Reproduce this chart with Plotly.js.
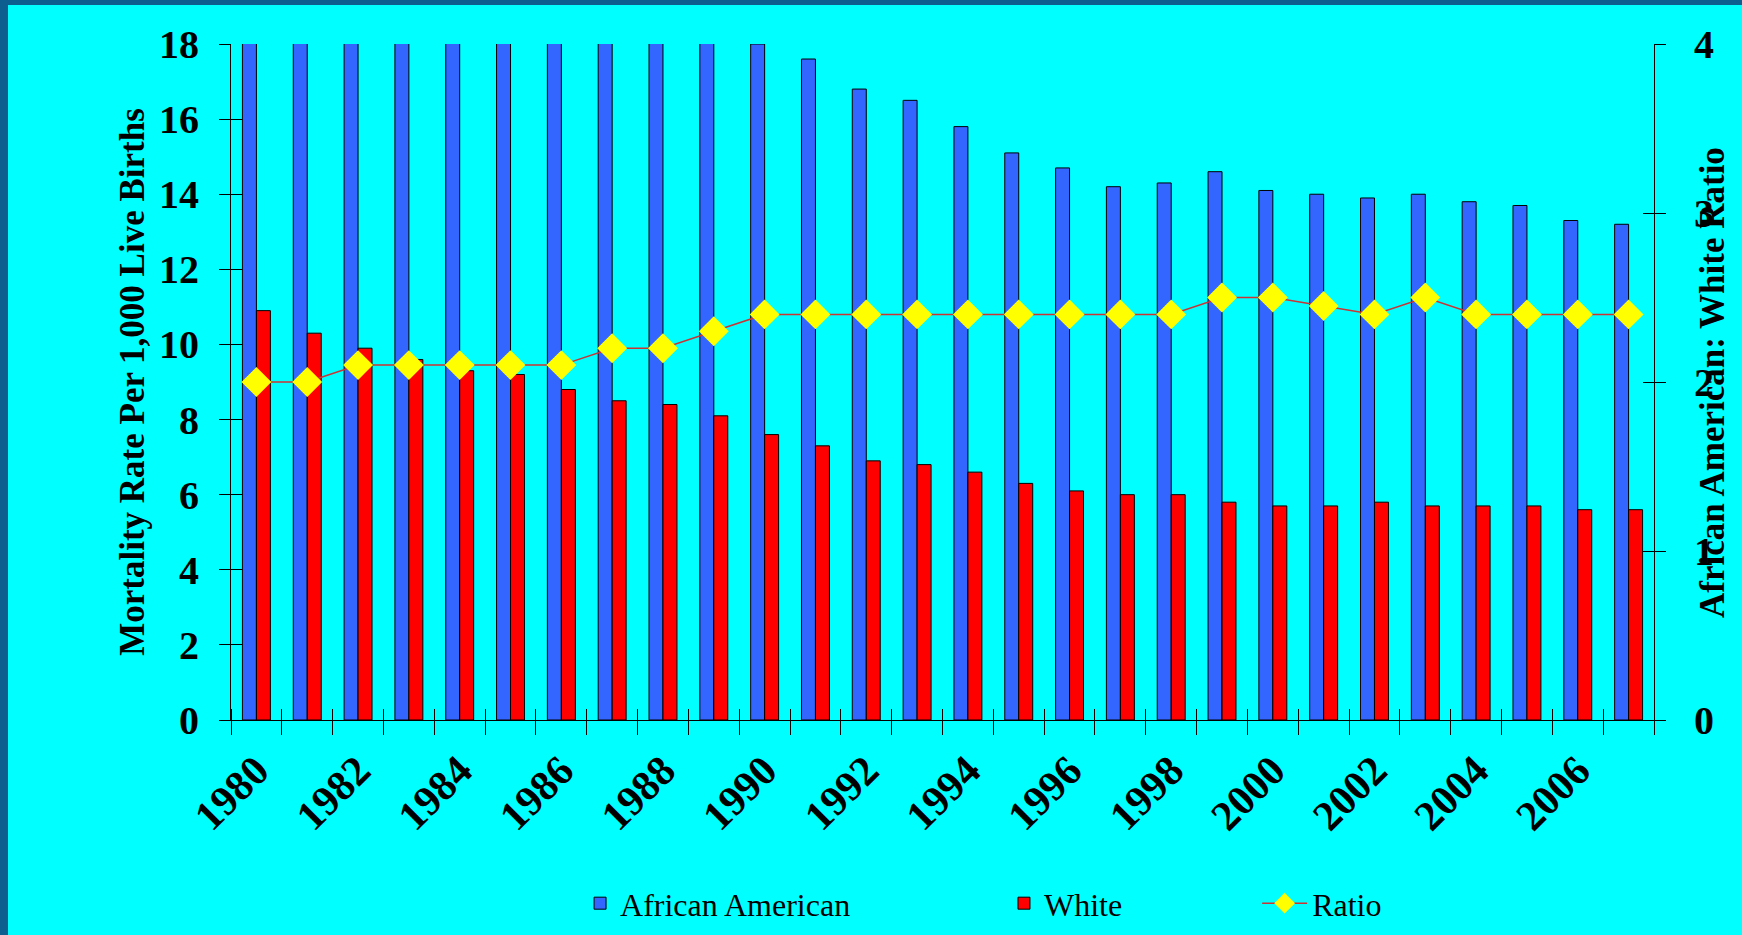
<!DOCTYPE html>
<html><head><meta charset="utf-8">
<script src="https://cdn.plot.ly/plotly-3.0.1.min.js"></script>
<style>
html,body{margin:0;padding:0;background:#0C5F8E;width:1742px;height:935px;overflow:hidden;}
#chart{position:absolute;left:8px;top:5px;width:1734px;height:930px;}
</style></head><body><div id="chart"></div>
<script>
const years = [1980,1981,1982,1983,1984,1985,1986,1987,1988,1989,1990,1991,1992,1993,1994,1995,1996,1997,1998,1999,2000,2001,2002,2003,2004,2005,2006,2007];
const africanAmerican = [22.2,20.8,20.5,20.0,19.2,19.0,18.9,18.8,18.5,18.6,18.0,17.6,16.8,16.5,15.8,15.1,14.7,14.2,14.3,14.6,14.1,14.0,13.9,14.0,13.8,13.7,13.3,13.2];
const white = [10.9,10.3,9.9,9.6,9.3,9.2,8.8,8.5,8.4,8.1,7.6,7.3,6.9,6.8,6.6,6.3,6.1,6.0,6.0,5.8,5.7,5.7,5.8,5.7,5.7,5.7,5.6,5.6];
const ratio = [2.0,2.0,2.1,2.1,2.1,2.1,2.1,2.2,2.2,2.3,2.4,2.4,2.4,2.4,2.4,2.4,2.4,2.4,2.4,2.5,2.5,2.45,2.4,2.5,2.4,2.4,2.4,2.4];
const yearTickVals = [1980,1982,1984,1986,1988,1990,1992,1994,1996,1998,2000,2002,2004,2006];
const yearTickText = ['1980','1982','1984','1986','1988','1990','1992','1994','1996','1998','2000','2002','2004','2006'];
const seriesNames = ['African American','White','Ratio'];
const leftTitle = 'Mortality Rate Per 1,000 Live Births';
const rightTitle = 'African American: White Ratio';

const FONT = 'Liberation Serif, Times New Roman, serif';
const xRange = [1979.5, 2007.5];

const traces = [
  {type:'bar', name:seriesNames[0], x:years, y:africanAmerican, legend:'legend',
   marker:{color:'#3366FF', line:{color:'#000000', width:1}}, hoverinfo:'x+y'},
  {type:'bar', name:seriesNames[1], x:years, y:white, legend:'legend2',
   marker:{color:'#FF0000', line:{color:'#000000', width:1}}, hoverinfo:'x+y'},
  {type:'scatter', mode:'lines+markers', name:seriesNames[2], x:years, y:ratio, yaxis:'y2', legend:'legend3',
   line:{color:'#CC3333', width:1.5},
   marker:{symbol:'diamond', size:23, color:'#FFFF00', line:{width:0}}, hoverinfo:'x+y'},
  {type:'scatter', x:[], y:[], xaxis:'x2', yaxis:'y', showlegend:false, hoverinfo:'skip'},
  {type:'scatter', x:[], y:[], xaxis:'x', yaxis:'y3', showlegend:false, hoverinfo:'skip'},
  {type:'scatter', x:[], y:[], xaxis:'x', yaxis:'y4', showlegend:false, hoverinfo:'skip'}
];

const tickFont = {family:FONT, size:40, weight:700, color:'#000000'};
const legendBase = {orientation:'h', xanchor:'left', yanchor:'middle', yref:'container', y:0.034,
  bgcolor:'rgba(0,0,0,0)', font:{family:FONT, size:32, color:'#000000'}};

const layout = {
  width:1734, height:930,
  paper_bgcolor:'#00FFFF', plot_bgcolor:'#00FFFF',
  margin:{l:223, r:88, t:39, b:215, autoexpand:false},
  barmode:'group', bargap:0.45, bargroupgap:0,
  showlegend:true,
  xaxis:{range:xRange, tickmode:'array', tickvals:yearTickVals, ticktext:yearTickText,
    tickangle:-45, ticks:'', showline:true, linecolor:'#000000', linewidth:1,
    tickfont:{family:FONT, size:42, weight:700, color:'#000000'}, ticklabelstandoff:8,
    showgrid:false, zeroline:false,
    minor:{tickmode:'linear', tick0:1979.5, dtick:1, ticks:'outside', ticklen:14, tickcolor:'#000000', tickwidth:1, showgrid:false}},
  xaxis2:{overlaying:'x', anchor:'y', range:xRange, showticklabels:false, ticks:'', showline:false,
    showgrid:false, zeroline:false,
    minor:{tickmode:'linear', tick0:1979.5, dtick:1, ticks:'inside', ticklen:11, tickcolor:'#000000', tickwidth:1, showgrid:false}},
  yaxis:{range:[0,18], tick0:0, dtick:2, ticks:'outside', ticklen:11, tickcolor:'#000000',
    showline:true, linecolor:'#000000', linewidth:1, tickfont:tickFont, ticklabelstandoff:12,
    showgrid:false, zeroline:false,
    title:{text:leftTitle, font:{family:FONT, size:35, weight:700, color:'#000000'}, standoff:3}},
  yaxis2:{overlaying:'y', side:'right', anchor:'x', range:[0,4], tick0:0, dtick:1, ticks:'outside', ticklen:11,
    tickcolor:'#000000', showline:true, linecolor:'#000000', linewidth:1, tickfont:tickFont,
    ticklabelstandoff:20, showgrid:false, zeroline:false},
  yaxis3:{overlaying:'y', side:'left', anchor:'x', range:[0,18], tick0:0, dtick:2, ticks:'inside', ticklen:11,
    tickcolor:'#000000', showticklabels:false, showline:false, showgrid:false, zeroline:false},
  yaxis4:{overlaying:'y', side:'right', anchor:'x', range:[0,4], tick0:0, dtick:1, ticks:'inside', ticklen:11,
    tickcolor:'#000000', showticklabels:false, showline:false, showgrid:false, zeroline:false},
  legend:Object.assign({}, legendBase, {x:0.2453}),
  legend2:Object.assign({}, legendBase, {x:0.5432}),
  legend3:Object.assign({}, legendBase, {x:0.7211, itemwidth:45}),
  annotations:[{text:rightTitle, xref:'paper', yref:'paper', x:1.0407, y:0.5, textangle:-90,
    showarrow:false, xanchor:'center', yanchor:'middle',
    font:{family:FONT, size:35, weight:700, color:'#000000'}}]
};

Plotly.newPlot('chart', traces, layout, {displayModeBar:false, staticPlot:false});
</script></body></html>
